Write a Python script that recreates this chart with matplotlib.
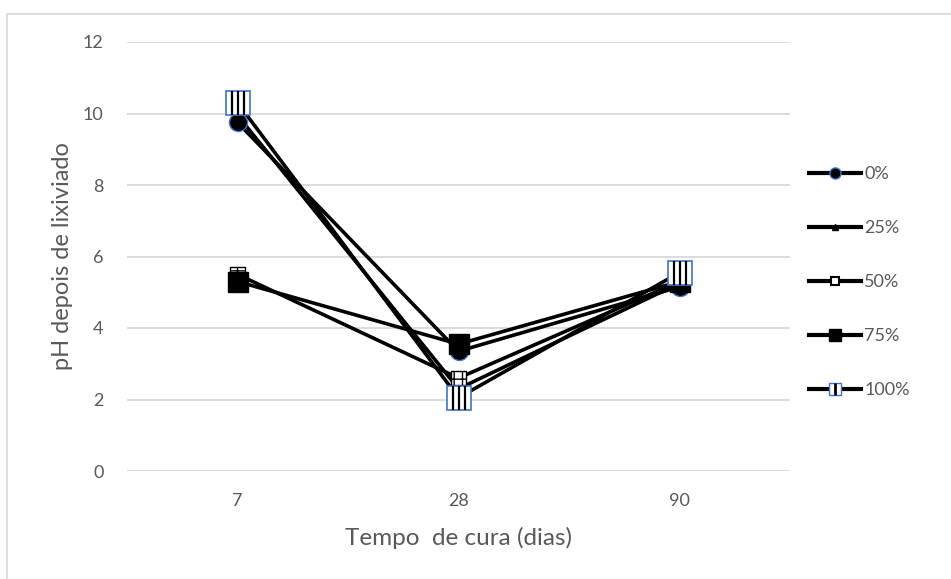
import matplotlib.pyplot as plt
from matplotlib.lines import Line2D
from matplotlib.path import Path
from matplotlib.patches import Rectangle
from matplotlib.legend_handler import HandlerTuple

plt.rcParams['font.family'] = ['Lato', 'DejaVu Sans']

# pH of the leachate per curing time and replacement level
days = ['7', '28', '90']
labels = ['0%', '25%', '50%', '75%', '100%']
ph_0 = [9.75, 3.35, 5.15]
ph_25 = [9.95, 2.3, 5.25]
ph_50 = [5.5, 2.6, 5.3]
ph_75 = [5.3, 3.55, 5.3]
ph_100 = [10.3, 2.05, 5.55]
series = [ph_0, ph_25, ph_50, ph_75, ph_100]

text_col = '#595959'
grid_col = '#d9d9d9'
blue = '#4472c4'

# three vertical bars used inside the 100% marker
stripes = Path([(-0.54, -1), (-0.54, 1), (0, -1), (0, 1), (0.54, -1), (0.54, 1)],
               [Path.MOVETO, Path.LINETO] * 3)

fig = plt.figure(figsize=(9.51, 5.79), dpi=100)
fig.patches.append(Rectangle((7 / 951, -0.1), 1.2, 1.1 - 14 / 579,
                             transform=fig.transFigure, fill=False,
                             edgecolor=grid_col, lw=1.2))
ax = fig.add_axes([127 / 951, 1 - 471 / 579, (790 - 127) / 951, (471 - 42) / 579])

x = list(range(len(days)))
for vals in series:
    ax.plot(x, vals, color='black', lw=2.6, zorder=2, solid_capstyle='round')

ax.plot(x, ph_0, ls='none', marker='o', ms=13, mfc='black', mec=blue, mew=1, zorder=3)
ax.plot(x, ph_25, ls='none', marker='^', ms=6, mfc='black', mec='black', zorder=4)
ax.scatter(x, ph_50, marker='s', s=110, facecolor='white', edgecolor='black',
           hatch='++', lw=1, zorder=5)
ax.plot(x, ph_75, ls='none', marker='s', ms=15, mfc='black', mec='black', zorder=6)
ax.plot(x, ph_100, ls='none', marker='s', ms=17, mfc='white', mec=blue, mew=1.2, zorder=7)
ax.plot(x, ph_100, ls='none', marker=stripes, ms=17, mfc='none', mec='black', mew=1.6, zorder=8)

ax.set_xlim(-0.5, 2.5)
ax.set_ylim(0, 12)
ax.set_yticks(range(0, 13, 2))
ax.set_xticks(x)
ax.set_xticklabels(days)
ax.grid(axis='y', color=grid_col, lw=1.3)
ax.set_axisbelow(True)
for s in ax.spines.values():
    s.set_visible(False)
ax.tick_params(length=0, colors=text_col, labelsize=13)
ax.tick_params(axis='y', pad=17)
ax.tick_params(axis='x', pad=16)
ax.set_xlabel('Tempo  de cura (dias)', color=text_col, fontsize=17.5, labelpad=13)
ax.set_ylabel('pH depois de lixiviado', color=text_col, fontsize=17, labelpad=7)

# legend entries: line with a small marker in the middle
lw_leg = 3
handles = [
    Line2D([], [], color='black', lw=lw_leg, marker='o', ms=8, mfc='black', mec=blue),
    Line2D([], [], color='black', lw=lw_leg, marker='^', ms=4, mfc='black', mec='black'),
    Line2D([], [], color='black', lw=lw_leg, marker='s', ms=6, mfc='white', mec='black', mew=1.5),
    Line2D([], [], color='black', lw=lw_leg, marker='s', ms=8, mfc='black', mec='black'),
    (Line2D([], [], color='black', lw=lw_leg, marker='s', ms=8, mfc='white', mec=blue, mew=1),
     Line2D([], [], ls='none', marker='|', ms=8, mec='black', mew=2)),
]
leg = fig.legend(handles, labels, loc='center left',
                 bbox_to_anchor=(793 / 951, 1 - 282 / 579), frameon=False,
                 fontsize=13, handlelength=2.85, handletextpad=0.2,
                 labelspacing=2.1, handler_map={tuple: HandlerTuple(ndivide=1)})
for t in leg.get_texts():
    t.set_color(text_col)

plt.savefig('out.png', dpi=100)
